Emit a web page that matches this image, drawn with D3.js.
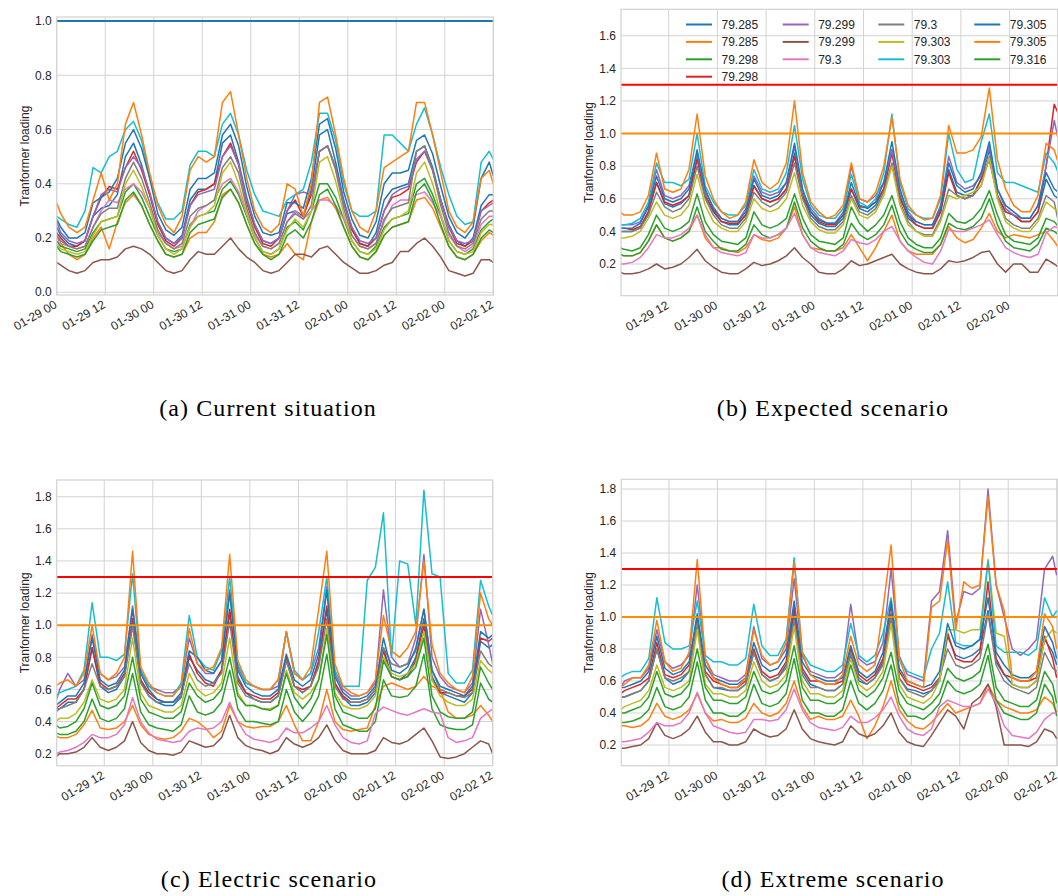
<!DOCTYPE html>
<html>
<head>
<meta charset="utf-8">
<script src="https://cdnjs.cloudflare.com/ajax/libs/d3/7.8.5/d3.min.js"></script>
<style>
  html, body { margin: 0; padding: 0; background: #ffffff; }
  svg { display: block; }
</style>
</head>
<body>
<svg id="fig" width="1058" height="896"></svg>
<script>
// Sampling times, in hours after 01-29 00:00
const hours = [0,1,3,5,7,9,11,13,15,17,19,21,23,25,27,29,31,33,35,37,39,41,43,45,47,49,51,53,55,57,59,61,63,65,67,69,71,73,75,77,79,81,83,85,87,89,91,93,95,97,99,101,103,105,107,108];
const tickHours = [0,12,24,36,48,60,72,84,96,108];

// Transformers (legend labels) and their line colours
const feeders = ["79.285","79.285","79.298","79.298","79.299","79.299","79.3","79.3","79.303","79.303","79.305","79.305","79.316"];
const palette = ["#1f77b4","#ff7f0e","#2ca02c","#d62728","#9467bd","#8c564b","#e377c2","#7f7f7f","#bcbd22","#17becf","#1f77b4","#ff7f0e","#2ca02c"];

// (a) Current situation
const current = [
 [.24, .21,.18,.17,.19,.28,.31,.32,.36,.50,.55,.47,.36, .26,.20,.18,.21,.34,.38,.38,.40,.55,.58,.48,.35, .25,.19,.18,.20,.29,.30,.28,.38,.58,.60,.48,.34, .24,.18,.17,.22,.34,.38,.39,.40,.52,.54,.46,.34, .25,.19,.17,.20,.32,.36, .36],
 [.21, .18,.14,.12,.14,.20,.24,.16,.26,.33,.36,.32,.25, .19,.14,.13,.14,.20,.22,.22,.26,.36,.38,.33,.25, .18,.14,.13,.14,.18,.14,.12,.26,.34,.35,.31,.24, .17,.13,.12,.15,.21,.24,.25,.26,.34,.35,.31,.24, .17,.13,.12,.14,.19,.22, .21],
 [.19, .17,.16,.15,.16,.22,.26,.27,.28,.37,.40,.35,.28, .21,.16,.15,.16,.25,.28,.29,.30,.38,.41,.36,.28, .20,.15,.14,.16,.24,.26,.23,.30,.40,.40,.35,.27, .19,.15,.14,.17,.24,.27,.28,.29,.40,.42,.36,.28, .19,.15,.14,.16,.23,.26, .27],
 [.22, .20,.17,.17,.19,.28,.35,.39,.38,.46,.52,.45,.36, .25,.19,.17,.20,.32,.37,.38,.40,.50,.55,.47,.33, .24,.18,.17,.20,.30,.34,.28,.36,.52,.54,.46,.33, .23,.18,.17,.20,.30,.35,.36,.38,.48,.52,.45,.34, .24,.18,.17,.19,.30,.33, .34],
 [.26, .22,.19,.18,.19,.28,.36,.38,.37,.46,.50,.46,.37, .26,.20,.18,.20,.32,.36,.37,.38,.50,.54,.47,.34, .25,.19,.18,.20,.30,.36,.37,.36,.52,.54,.46,.33, .24,.19,.18,.20,.30,.36,.38,.39,.49,.52,.45,.34, .24,.19,.18,.19,.30,.32, .33],
 [.11, .10,.08,.07,.08,.11,.12,.12,.13,.16,.17,.16,.14, .11,.08,.07,.08,.12,.15,.14,.14,.17,.20,.16,.13, .11,.08,.07,.08,.11,.14,.14,.13,.16,.17,.14,.11, .09,.07,.07,.08,.10,.11,.15,.15,.18,.20,.17,.13, .08,.07,.06,.07,.12,.12, .11],
 [.20, .18,.17,.16,.17,.24,.30,.34,.33,.38,.40,.37,.31, .22,.18,.16,.17,.24,.30,.32,.34,.40,.42,.37,.29, .21,.17,.16,.18,.26,.30,.27,.30,.34,.34,.32,.27, .21,.17,.16,.18,.26,.32,.34,.34,.36,.37,.33,.28, .21,.17,.15,.17,.25,.28, .28],
 [.21, .19,.17,.16,.17,.24,.29,.31,.31,.42,.48,.42,.33, .23,.18,.16,.18,.28,.31,.32,.34,.46,.50,.44,.31, .22,.17,.16,.18,.26,.29,.27,.32,.52,.54,.45,.31, .21,.17,.16,.18,.27,.31,.32,.33,.52,.54,.45,.32, .22,.17,.16,.18,.27,.30, .30],
 [.18, .16,.15,.14,.15,.21,.26,.27,.28,.40,.45,.39,.31, .21,.16,.14,.16,.24,.28,.29,.32,.44,.48,.40,.29, .20,.15,.14,.16,.23,.27,.24,.30,.48,.50,.41,.29, .19,.15,.14,.16,.23,.27,.28,.30,.44,.48,.40,.29, .19,.15,.14,.15,.22,.25, .25],
 [.28, .27,.25,.24,.30,.46,.44,.50,.52,.60,.63,.56,.42, .33,.27,.27,.30,.47,.52,.52,.50,.62,.66,.58,.45, .36,.30,.29,.28,.34,.36,.38,.48,.66,.66,.56,.40, .30,.28,.28,.30,.58,.58,.55,.52,.62,.68,.58,.46, .36,.28,.25,.26,.48,.52, .49],
 [.27, .24,.20,.20,.22,.33,.35,.37,.42,.55,.60,.53,.42, .29,.23,.21,.24,.38,.42,.42,.44,.58,.62,.54,.39, .28,.22,.21,.22,.33,.33,.31,.42,.62,.64,.53,.37, .27,.21,.20,.26,.40,.44,.44,.45,.56,.58,.51,.39, .28,.22,.20,.24,.42,.48, .43],
 [.33, .29,.24,.22,.24,.34,.44,.34,.40,.62,.70,.58,.44, .32,.25,.22,.28,.45,.50,.48,.50,.70,.74,.58,.42, .30,.24,.22,.25,.40,.38,.28,.40,.70,.72,.58,.42, .30,.24,.22,.30,.46,.48,.50,.52,.70,.70,.58,.44, .30,.24,.22,.26,.42,.45, .40],
 [.17, .15,.14,.13,.14,.19,.23,.24,.25,.34,.37,.32,.25, .19,.14,.13,.14,.22,.25,.26,.27,.35,.38,.33,.25, .18,.14,.12,.14,.21,.23,.20,.26,.36,.38,.32,.24, .17,.13,.12,.15,.21,.24,.25,.26,.37,.40,.34,.25, .17,.13,.12,.14,.20,.23, .22]
];

// (b) Expected scenario
const expected = [
 [.40, .40,.40,.42,.52,.70,.57,.55,.57,.62,.86,.62,.52, .46,.44,.44,.50,.68,.60,.58,.60,.66,.88,.62,.50, .45,.43,.43,.48,.66,.54,.52,.56,.66,.90,.62,.48, .44,.42,.42,.52,.78,.64,.62,.62,.72,.90,.62,.52, .50,.46,.46,.52,.72,.62, .60],
 [.26, .25,.25,.27,.34,.44,.36,.34,.36,.40,.50,.36,.30, .30,.28,.27,.30,.38,.35,.34,.36,.42,.55,.38,.30, .29,.28,.28,.30,.38,.30,.22,.30,.40,.50,.34,.28, .26,.26,.26,.32,.43,.36,.33,.35,.42,.51,.40,.36, .38,.37,.36,.38,.40,.34, .30],
 [.26, .25,.25,.27,.34,.44,.36,.34,.36,.40,.55,.40,.34, .29,.28,.28,.32,.44,.38,.36,.38,.42,.58,.42,.34, .30,.28,.28,.32,.45,.38,.35,.38,.44,.56,.40,.32, .29,.27,.27,.32,.45,.42,.41,.43,.48,.60,.44,.34, .30,.29,.28,.32,.42,.40, .38],
 [.42, .42,.41,.43,.52,.70,.58,.56,.58,.62,.84,.62,.53, .46,.45,.45,.50,.68,.60,.58,.60,.66,.86,.62,.52, .46,.44,.44,.50,.66,.55,.55,.58,.66,.88,.60,.50, .44,.42,.42,.52,.76,.62,.60,.62,.72,.84,.62,.52, .50,.46,.46,.52,.80,1.18, 1.12],
 [.44, .44,.44,.46,.56,.78,.62,.60,.62,.68,.88,.64,.55, .48,.46,.46,.54,.74,.64,.62,.64,.70,.92,.64,.54, .48,.45,.45,.52,.80,.60,.58,.62,.70,.90,.64,.52, .46,.44,.44,.56,.86,.70,.66,.68,.74,.92,.66,.54, .50,.48,.48,.56,.80,1.08, .96],
 [.15, .14,.14,.15,.17,.20,.17,.18,.20,.24,.29,.22,.18, .15,.14,.14,.17,.21,.19,.20,.22,.25,.30,.24,.20, .15,.14,.14,.17,.22,.19,.20,.22,.24,.26,.20,.17, .15,.14,.14,.17,.22,.21,.22,.24,.27,.28,.20,.15, .20,.20,.15,.15,.23,.20, .18],
 [.20, .20,.21,.24,.30,.38,.36,.36,.38,.42,.50,.38,.30, .27,.26,.25,.27,.38,.36,.36,.38,.42,.51,.38,.30, .27,.26,.25,.28,.35,.33,.32,.35,.40,.43,.34,.28, .24,.21,.20,.28,.41,.40,.40,.42,.44,.47,.38,.30, .27,.25,.24,.26,.39,.43, .42],
 [.40, .40,.40,.42,.50,.64,.55,.52,.54,.60,.80,.60,.50, .44,.42,.42,.48,.64,.58,.55,.58,.64,.82,.60,.48, .43,.41,.41,.46,.62,.52,.50,.54,.64,.82,.58,.46, .40,.38,.38,.48,.66,.62,.60,.62,.68,.86,.62,.48, .44,.42,.42,.48,.62,.58, .46],
 [.36, .36,.37,.40,.48,.58,.50,.48,.50,.56,.75,.56,.46, .42,.40,.40,.46,.60,.54,.52,.54,.60,.76,.56,.46, .41,.39,.39,.44,.60,.50,.48,.52,.62,.80,.56,.44, .40,.37,.37,.46,.62,.60,.62,.64,.68,.85,.60,.46, .42,.40,.40,.46,.58,.54, .52],
 [.44, .44,.45,.48,.58,.82,.70,.70,.68,.72,1.00,.68,.58, .52,.50,.50,.56,.78,.66,.64,.66,.76,1.05,.72,.56, .50,.48,.48,.54,.75,.58,.55,.60,.76,1.12,.70,.54, .50,.48,.48,.60,1.00,.78,.70,.72,.95,1.12,.76,.70, .70,.68,.66,.64,.88,.82, .76],
 [.42, .42,.42,.45,.55,.74,.60,.58,.60,.66,.90,.66,.54, .48,.46,.46,.52,.72,.62,.60,.62,.70,.94,.66,.52, .47,.45,.45,.50,.70,.56,.54,.58,.70,.95,.66,.50, .46,.44,.44,.54,.82,.68,.64,.66,.76,.95,.66,.56, .52,.48,.48,.56,.76,.66, .64],
 [.52, .50,.50,.52,.62,.88,.66,.64,.66,.78,1.12,.74,.60, .52,.48,.50,.58,.84,.70,.66,.70,.82,1.20,.76,.58, .52,.48,.50,.56,.82,.60,.58,.64,.80,1.10,.72,.56, .50,.47,.48,.62,1.05,.88,.88,.90,.98,1.28,.84,.66, .56,.52,.52,.62,.94,.90, .82],
 [.30, .29,.28,.30,.38,.50,.42,.40,.42,.46,.63,.46,.38, .34,.33,.32,.36,.52,.44,.42,.44,.48,.63,.48,.38, .34,.33,.32,.36,.55,.45,.40,.44,.50,.62,.46,.36, .32,.30,.30,.36,.51,.46,.45,.48,.54,.65,.50,.38, .34,.33,.32,.36,.48,.46, .43]
];

// (c) Electric scenario
const electric = [
 [.46, .48,.52,.52,.60,.86,.62,.58,.60,.68,1.00,.66,.56, .52,.50,.50,.55,.80,.72,.66,.64,.72,1.08,.68,.58, .54,.52,.52,.56,.78,.62,.58,.62,.76,1.10,.64,.55, .50,.50,.52,.58,.86,.68,.66,.70,.80,1.04,.68,.58, .56,.54,.52,.58,.90,.86, .88],
 [.31, .30,.30,.32,.38,.47,.36,.35,.36,.40,.50,.38,.32, .30,.29,.30,.34,.42,.40,.36,.30,.34,.50,.40,.37, .36,.37,.37,.40,.50,.38,.28,.28,.40,.60,.40,.35, .34,.35,.36,.50,.62,.64,.62,.60,.62,.68,.62,.60, .46,.42,.42,.44,.50,.44, .40],
 [.33, .32,.32,.34,.40,.54,.42,.40,.42,.48,.70,.46,.38, .36,.35,.34,.38,.56,.46,.44,.46,.52,.72,.48,.40, .40,.39,.38,.40,.60,.46,.40,.46,.56,.82,.48,.38, .36,.34,.34,.40,.66,.56,.55,.56,.62,.82,.48,.38, .36,.35,.35,.38,.64,.54, .52],
 [.48, .50,.54,.54,.60,.86,.64,.60,.62,.70,1.04,.66,.58, .54,.52,.52,.56,.82,.70,.64,.62,.72,1.10,.66,.58, .56,.54,.54,.58,.80,.62,.60,.62,.78,1.12,.64,.56, .52,.52,.54,.60,.84,.68,.66,.68,.78,1.00,.66,.58, .58,.56,.56,.60,.92,.90, .92],
 [.52, .60,.70,.62,.66,.94,.70,.66,.68,.74,1.12,.72,.62, .60,.58,.58,.62,.92,.76,.70,.70,.78,1.22,.74,.64, .62,.60,.60,.62,.96,.70,.66,.70,.86,1.24,.70,.60, .56,.56,.58,.64,1.22,.80,.74,.76,.92,1.44,.80,.68, .62,.60,.58,.64,1.10,.88, .76],
 [.18, .20,.20,.21,.24,.30,.24,.22,.24,.28,.40,.27,.22, .20,.20,.19,.21,.28,.26,.24,.25,.30,.44,.30,.25, .23,.22,.20,.22,.30,.26,.24,.26,.30,.38,.28,.22, .20,.20,.20,.22,.30,.27,.26,.28,.32,.36,.28,.18, .17,.18,.20,.24,.28,.26, .20],
 [.20, .21,.22,.24,.27,.32,.30,.30,.32,.38,.55,.40,.33, .29,.28,.27,.28,.34,.36,.35,.36,.40,.52,.40,.32, .29,.28,.27,.29,.36,.33,.33,.36,.40,.50,.38,.30, .27,.26,.28,.45,.49,.47,.45,.44,.46,.48,.46,.45, .30,.27,.28,.30,.42,.46, .48],
 [.48, .48,.50,.52,.60,.76,.62,.60,.62,.68,1.00,.64,.56, .52,.52,.52,.56,.76,.66,.62,.64,.70,1.02,.64,.56, .54,.52,.52,.56,.78,.62,.58,.62,.74,1.04,.62,.54, .52,.52,.54,.60,.86,.76,.74,.76,.84,1.10,.72,.60, .58,.56,.55,.58,.84,.76, .74],
 [.40, .42,.42,.45,.52,.66,.54,.52,.54,.60,.92,.58,.50, .48,.46,.46,.50,.70,.60,.56,.58,.64,.92,.58,.50, .50,.48,.48,.50,.72,.58,.54,.58,.66,.98,.58,.50, .48,.48,.50,.56,.80,.70,.68,.70,.76,.96,.66,.56, .52,.50,.50,.54,.78,.72, .70],
 [.56, .58,.60,.62,.72,1.14,.80,.80,.78,.82,1.32,.72,.62, .58,.56,.56,.64,1.06,.80,.74,.72,.84,1.30,.76,.64, .62,.60,.60,.66,.96,.72,.66,.70,.96,1.30,.72,.62, .62,.62,1.28,1.36,1.70,.80,1.40,1.38,1.00,1.84,1.32,1.30, .70,.64,.64,.72,1.28,1.12, 1.06],
 [.50, .52,.56,.56,.64,.92,.66,.62,.64,.72,1.10,.70,.60, .54,.52,.52,.58,.84,.80,.72,.70,.78,1.20,.72,.62, .58,.56,.56,.60,.82,.66,.62,.66,.82,1.22,.68,.58, .54,.54,.56,.62,.92,.72,.70,.74,.86,1.10,.72,.62, .60,.58,.56,.62,.96,.92, .94],
 [.62, .64,.66,.62,.70,1.00,.70,.66,.70,.80,1.46,.74,.64, .58,.56,.56,.62,.98,.76,.72,.74,.86,1.44,.78,.66, .62,.60,.60,.66,.96,.70,.66,.74,1.10,1.46,.76,.62, .58,.56,.58,.66,1.06,.84,.80,.86,.96,1.40,.88,.70, .64,.60,.58,.68,1.20,1.04, 1.00],
 [.38, .36,.37,.40,.48,.64,.50,.48,.50,.56,.80,.54,.46, .44,.42,.42,.46,.64,.56,.52,.54,.60,.80,.56,.50, .50,.48,.47,.50,.70,.55,.48,.54,.66,.94,.56,.46, .44,.42,.42,.48,.78,.68,.66,.68,.74,.92,.56,.46, .43,.42,.42,.46,.74,.64, .60]
];

// (d) Extreme scenario
const extreme = [
 [.50, .50,.52,.54,.60,.80,.62,.58,.60,.66,.94,.64,.56, .55,.54,.54,.58,.78,.64,.60,.62,.70,1.02,.66,.58, .56,.54,.54,.58,.76,.60,.58,.62,.72,1.02,.62,.55, .54,.52,.54,.60,.88,.76,.74,.76,.80,1.04,.72,.64, .58,.56,.56,.60,.86,.78, .70],
 [.32, .32,.31,.32,.36,.46,.38,.36,.38,.42,.52,.40,.35, .36,.34,.34,.37,.46,.40,.38,.40,.46,.60,.44,.36, .38,.36,.36,.38,.48,.38,.24,.32,.44,.60,.42,.35, .31,.30,.34,.40,.46,.40,.42,.44,.46,.58,.48,.44, .42,.40,.40,.42,.50,.46, .40],
 [.34, .34,.35,.37,.42,.56,.44,.42,.44,.50,.72,.48,.40, .40,.38,.38,.42,.58,.46,.44,.46,.52,.74,.48,.40, .40,.38,.38,.42,.60,.46,.42,.46,.54,.70,.46,.38, .38,.36,.40,.46,.60,.54,.52,.54,.58,.76,.48,.40, .38,.36,.36,.40,.58,.50, .38],
 [.52, .54,.56,.58,.62,.84,.64,.62,.64,.70,1.00,.66,.60, .58,.56,.56,.60,.80,.66,.62,.64,.72,1.06,.68,.60, .60,.58,.58,.60,.80,.64,.60,.64,.74,1.08,.66,.58, .56,.54,.56,.62,.90,.74,.72,.72,.78,1.22,.74,.64, .62,.60,.60,.62,.88,.74, .62],
 [.56, .60,.62,.62,.68,.92,.72,.68,.70,.76,1.20,.74,.64, .62,.60,.60,.64,.94,.74,.70,.72,.80,1.24,.76,.66, .64,.62,.62,.66,1.08,.74,.70,.72,.84,1.30,.76,.64, .62,.60,1.10,1.16,1.54,.96,1.16,1.14,1.18,1.80,1.20,1.00, .80,.76,.80,.86,1.30,1.38, 1.26],
 [.18, .18,.19,.20,.24,.34,.26,.24,.26,.30,.38,.28,.22, .22,.20,.20,.22,.30,.27,.25,.26,.30,.42,.30,.24, .22,.21,.20,.22,.32,.27,.25,.27,.32,.40,.28,.22, .20,.19,.26,.34,.42,.38,.30,.46,.50,.58,.44,.20, .20,.20,.19,.22,.30,.28, .24],
 [.22, .22,.23,.24,.28,.34,.32,.32,.34,.40,.53,.40,.32, .30,.28,.27,.28,.36,.36,.35,.36,.42,.55,.42,.34, .31,.30,.29,.31,.38,.34,.34,.37,.42,.50,.38,.30, .27,.26,.30,.44,.48,.46,.44,.44,.46,.55,.46,.32, .26,.25,.24,.28,.36,.40, .40],
 [.50, .50,.52,.54,.60,.80,.62,.60,.62,.66,.96,.64,.56, .56,.54,.54,.58,.78,.64,.60,.62,.68,.98,.64,.56, .56,.54,.54,.58,.78,.62,.58,.62,.70,1.00,.62,.54, .52,.50,.54,.62,.80,.70,.68,.70,.74,1.02,.70,.60, .56,.54,.52,.56,.78,.68, .66],
 [.42, .44,.46,.48,.54,.70,.56,.54,.56,.60,.92,.58,.52, .52,.50,.50,.54,.72,.60,.56,.58,.64,.94,.60,.52, .52,.50,.50,.54,.74,.58,.54,.58,.66,.96,.58,.50, .48,.46,.50,.60,.92,.92,.90,.92,.92,1.36,.90,.88, .58,.56,.56,.60,.86,.92, .90],
 [.62, .64,.66,.66,.74,1.12,.84,.80,.80,.82,1.10,.76,.72, .72,.70,.70,.74,1.08,.82,.76,.76,.86,1.37,.78,.70, .68,.66,.66,.70,.96,.76,.72,.76,.90,1.12,.74,.66, .64,.62,.80,.90,1.22,.84,.82,.82,.86,1.35,.82,.78, .78,.78,.76,.80,1.12,1.00, 1.04],
 [.56, .56,.58,.60,.66,.88,.68,.64,.66,.72,1.02,.70,.62, .60,.58,.58,.62,.84,.70,.66,.68,.76,1.10,.72,.64, .62,.60,.60,.62,.82,.66,.62,.66,.78,1.10,.68,.60, .58,.56,.58,.66,.96,.82,.80,.82,.86,1.12,.78,.70, .64,.62,.62,.66,.94,.84, .74],
 [.56, .58,.62,.62,.70,.98,.72,.66,.68,.78,1.36,.74,.62, .58,.56,.56,.62,.92,.76,.70,.72,.84,1.34,.78,.64, .60,.58,.58,.64,.88,.70,.66,.70,1.05,1.45,.74,.60, .58,.56,1.06,1.10,1.48,.92,1.22,1.18,1.20,1.75,1.20,1.04, .62,.60,.60,.66,1.02,.94, .80],
 [.40, .40,.42,.44,.50,.66,.52,.50,.52,.58,.80,.56,.48, .48,.46,.46,.50,.66,.54,.52,.54,.60,.82,.56,.48, .48,.46,.46,.50,.70,.54,.50,.54,.62,.78,.54,.46, .44,.42,.46,.52,.68,.62,.60,.62,.66,.83,.56,.48, .46,.44,.44,.48,.66,.58, .46]
];

// Loading limits drawn as horizontal lines
const limitsCurrent = [1.0];
const limitsScenario = [1.3, 1.0];

const yTicksCurrent = [0.0, 0.2, 0.4, 0.6, 0.8, 1.0];
const yTicksExpected = [0.2, 0.4, 0.6, 0.8, 1.0, 1.2, 1.4, 1.6];
const yTicksHigh = [0.2, 0.4, 0.6, 0.8, 1.0, 1.2, 1.4, 1.6, 1.8];

const captions = ["(a) Current situation", "(b) Expected scenario", "(c) Electric scenario", "(d) Extreme scenario"];

// ---------------------------------------------------------------
const base = Date.UTC(2019, 0, 29, 0, 0, 0);
const toDate = h => new Date(base + h * 3600000);
const fmtX = d3.utcFormat("%m-%d %H");
const fmtY = d3.format(".1f");

const TEXT = "#262626";
const GRID = "#d3d3d3";
const SANS = "'Liberation Sans', Arial, sans-serif";
const SERIF = "'Liberation Serif', 'Times New Roman', serif";

const panels = [
  { data: current, caption: captions[0], l: 56.7, r: 493.3, t: 17, b: 295, h0: 0, h1: 108,
    yDom: [-0.01, 1.015], yTicks: yTicksCurrent, limits: limitsCurrent, limitColors: ["#1f77b4"],
    labelX: 25, capX: 268, capY: 416, legend: false },
  { data: expected, caption: captions[1], l: 621, r: 1057.7, t: 9.3, b: 295.7, h0: 0.25, h1: 107.85,
    yDom: [0.0056, 1.762], yTicks: yTicksExpected, limits: limitsScenario, limitColors: ["#ff0000", "#ff8c00"],
    labelX: 589, capX: 833, capY: 416, legend: true },
  { data: electric, caption: captions[2], l: 56.7, r: 492.7, t: 480, b: 765.7, h0: 0.25, h1: 108,
    yDom: [0.1253, 1.904], yTicks: yTicksHigh, limits: limitsScenario, limitColors: ["#ff0000", "#ff8c00"],
    labelX: 25, capX: 269, capY: 887, legend: false },
  { data: extreme, caption: captions[3], l: 621.3, r: 1057.7, t: 479.3, b: 765.7, h0: 0.2, h1: 108.25,
    yDom: [0.0706, 1.861], yTicks: yTicksHigh, limits: limitsScenario, limitColors: ["#ff0000", "#ff8c00"],
    labelX: 589, capX: 833, capY: 887, legend: false }
];

const svg = d3.select("#fig");
const defs = svg.append("defs");

panels.forEach((p, pi) => {
  const x = d3.scaleUtc().domain([toDate(p.h0), toDate(p.h1)]).range([p.l, p.r]);
  const y = d3.scaleLinear().domain(p.yDom).range([p.b, p.t]);
  const g = svg.append("g").attr("class", "panel");

  const clipId = "clip" + pi;
  defs.append("clipPath").attr("id", clipId)
    .append("rect").attr("x", p.l).attr("y", p.t).attr("width", p.r - p.l).attr("height", p.b - p.t);

  const xTicks = tickHours.filter(h => h >= p.h0 && h <= p.h1).map(toDate);

  // grid
  const grid = g.append("g");
  grid.selectAll("line.gx").data(xTicks).join("line")
    .attr("x1", d => x(d)).attr("x2", d => x(d)).attr("y1", p.t).attr("y2", p.b)
    .attr("stroke", GRID).attr("stroke-width", 1);
  grid.selectAll("line.gy").data(p.yTicks).join("line")
    .attr("x1", p.l).attr("x2", p.r).attr("y1", d => y(d)).attr("y2", d => y(d))
    .attr("stroke", GRID).attr("stroke-width", 1);

  // series
  const line = d3.line().x((d, i) => x(toDate(hours[i]))).y(d => y(d));
  const lines = g.append("g").attr("clip-path", `url(#${clipId})`);
  p.data.forEach((vals, si) => {
    lines.append("path").datum(vals)
      .attr("d", line)
      .attr("fill", "none")
      .attr("stroke", palette[si])
      .attr("stroke-width", 1.5)
      .attr("stroke-linejoin", "round");
  });

  // limit lines
  p.limits.forEach((v, li) => {
    lines.append("line")
      .attr("x1", p.l).attr("x2", p.r).attr("y1", y(v)).attr("y2", y(v))
      .attr("stroke", p.limitColors[li]).attr("stroke-width", 2);
  });

  // frame
  g.append("rect").attr("x", p.l).attr("y", p.t).attr("width", p.r - p.l).attr("height", p.b - p.t)
    .attr("fill", "none").attr("stroke", GRID).attr("stroke-width", 1.25);

  // y tick labels
  g.selectAll("text.yt").data(p.yTicks).join("text")
    .attr("x", p.l - 5).attr("y", d => y(d)).attr("dy", "0.35em")
    .attr("text-anchor", "end").attr("font-family", SANS).attr("font-size", 12).attr("fill", TEXT)
    .text(d => fmtY(d));

  // x tick labels, rotated
  g.selectAll("text.xt").data(xTicks).join("text")
    .attr("transform", d => `translate(${x(d) + 1},${p.b + 12}) rotate(-30)`)
    .attr("text-anchor", "end").attr("font-family", SANS).attr("font-size", 12).attr("fill", TEXT)
    .text(d => fmtX(d));

  // axis label
  g.append("text")
    .attr("transform", `translate(${p.labelX},${(p.t + p.b) / 2}) rotate(-90)`)
    .attr("text-anchor", "middle").attr("dy", "0.35em")
    .attr("font-family", SANS).attr("font-size", 12).attr("fill", TEXT)
    .text("Tranformer loading");

  // caption
  g.append("text").attr("x", p.capX).attr("y", p.capY)
    .attr("text-anchor", "middle").attr("font-family", SERIF).attr("font-size", 24)
    .attr("letter-spacing", 1.1).attr("fill", "#000")
    .text(p.caption);

  // legend
  if (p.legend) {
    const colStarts = [686, 782.7, 878.3, 974.3];
    const perCol = [4, 3, 3, 3];
    let k = 0;
    const lg = g.append("g");
    perCol.forEach((n, c) => {
      for (let r = 0; r < n; r++, k++) {
        const yy = 24.5 + r * 17.4;
        lg.append("line").attr("x1", colStarts[c]).attr("x2", colStarts[c] + 26)
          .attr("y1", yy).attr("y2", yy).attr("stroke", palette[k]).attr("stroke-width", 2);
        lg.append("text").attr("x", colStarts[c] + 35.5).attr("y", yy).attr("dy", "0.35em")
          .attr("font-family", SANS).attr("font-size", 12).attr("fill", TEXT)
          .text(feeders[k]);
      }
    });
  }
});
</script>
</body>
</html>
